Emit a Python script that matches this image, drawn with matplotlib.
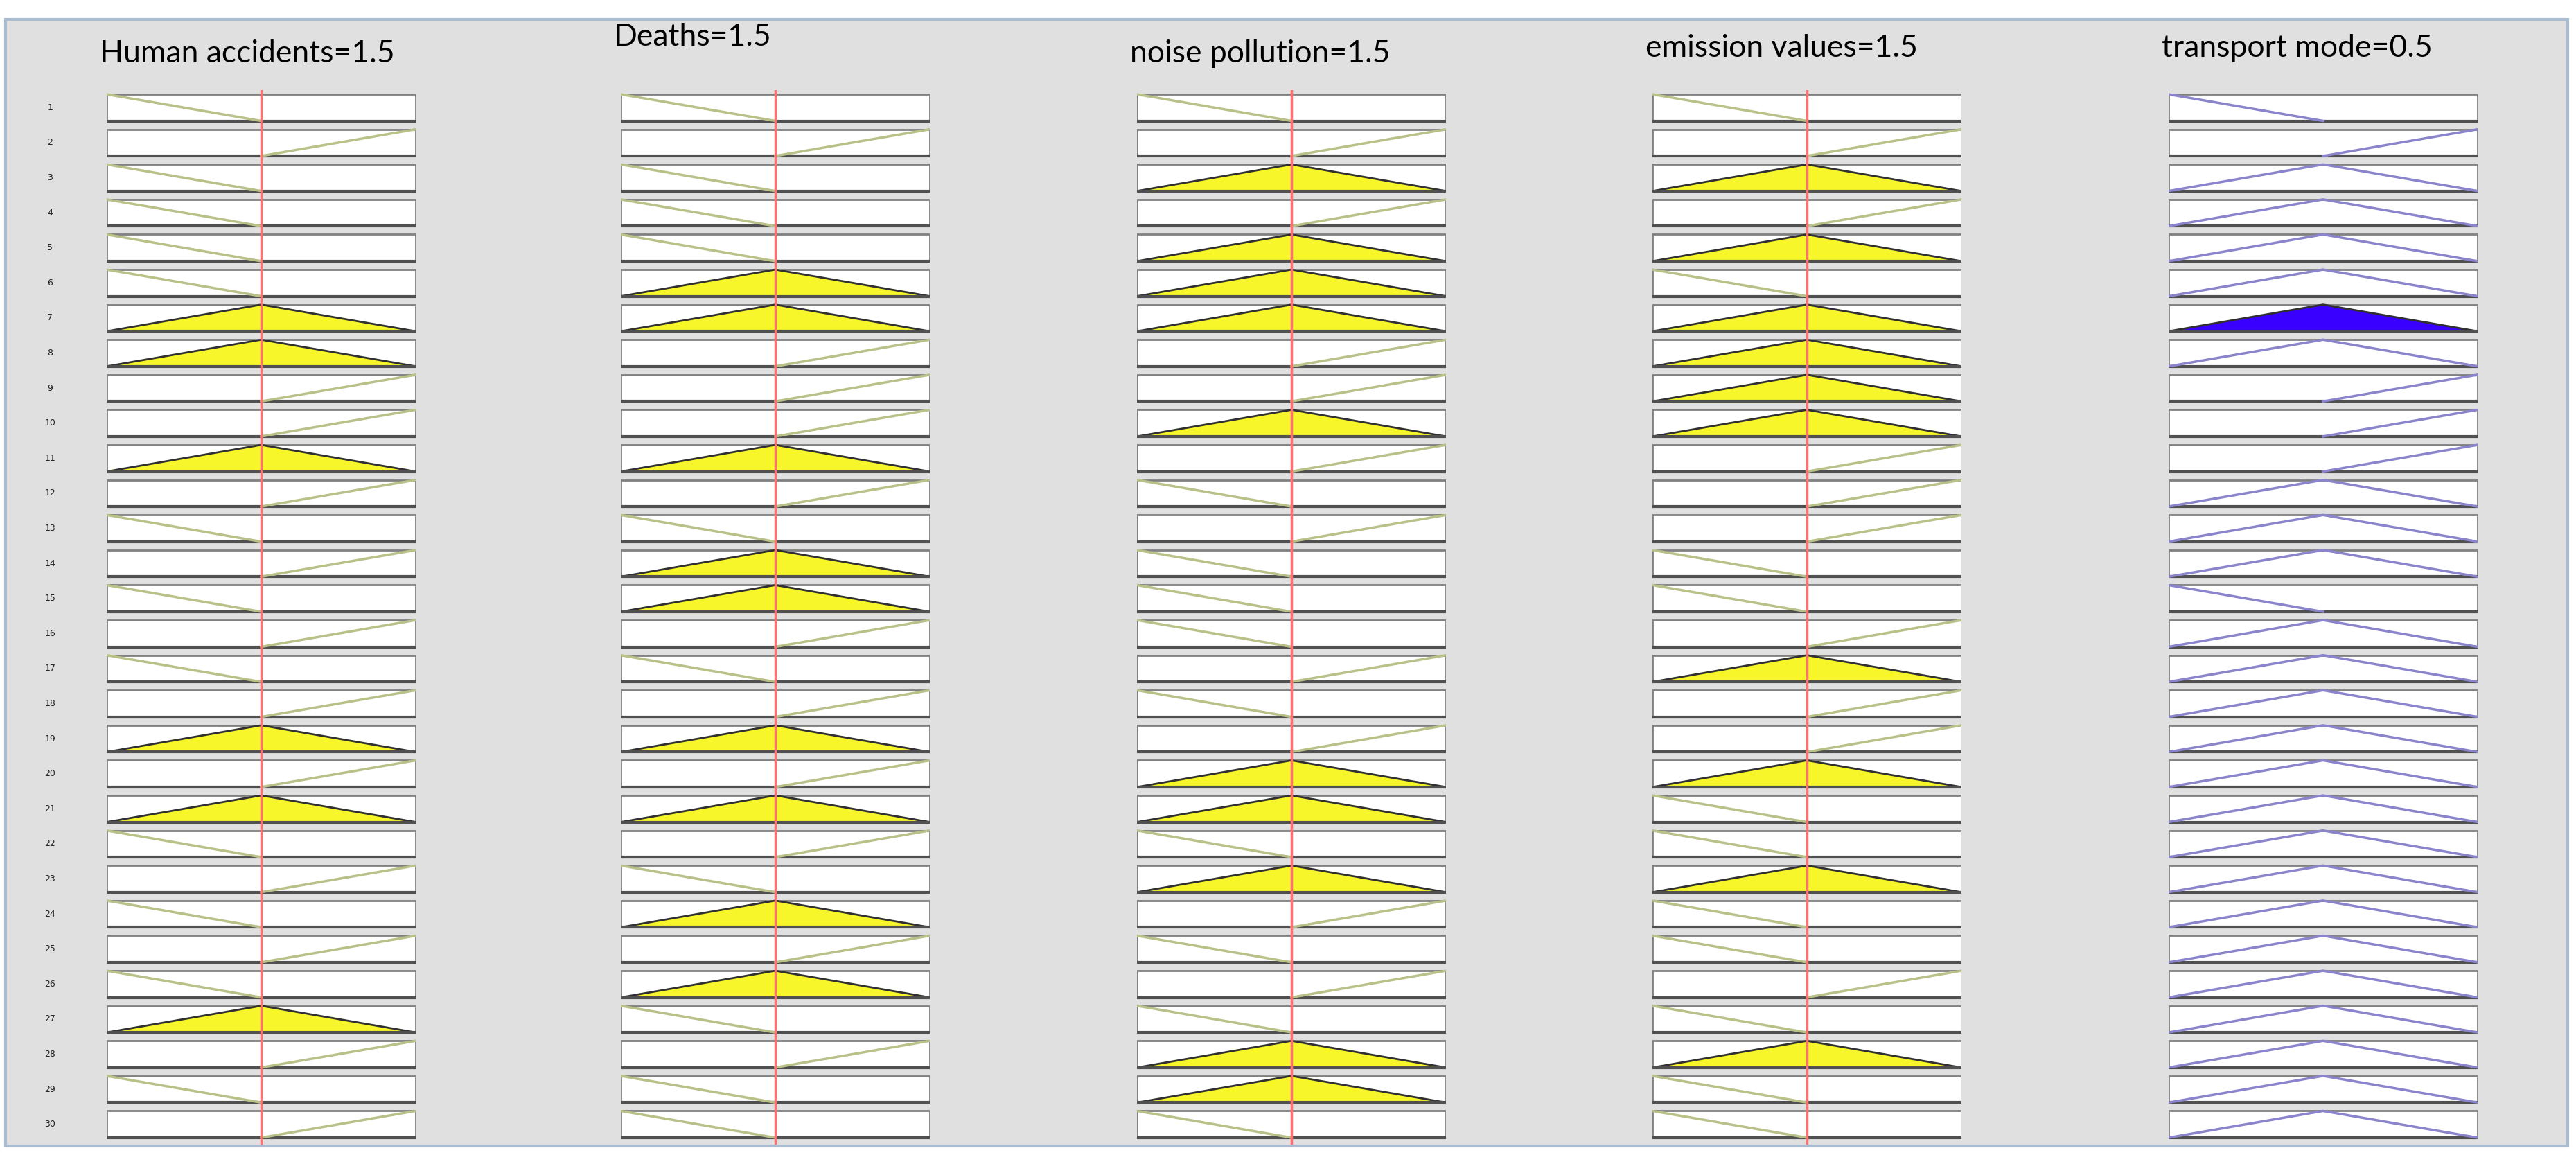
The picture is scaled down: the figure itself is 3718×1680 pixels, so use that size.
import matplotlib
matplotlib.use("Agg")
import matplotlib.pyplot as plt
from matplotlib.patches import Rectangle, Polygon

# membership function shape per rule: L = falling left, R = rising right, T = triangle
titles = ["Human accidents=1.5", "Deaths=1.5", "noise pollution=1.5",
          "emission values=1.5", "transport mode=0.5"]
inputs = [1.5, 1.5, 1.5, 1.5, 0.5]
ranges = [3, 3, 3, 3, 1]
human = "L R L L L L T T R R T R L R L R L R T R T L R L R L T R L R".split()
deaths = "L R L L L T T R R R T R L T T R L R T R T R L T R T L R L L".split()
noise = "L R T R T T T R R T R L R L L L R L R T T L T R L R L T T L".split()
emission = "L R T R T L T T T T R R R L L R T R R T L L T L L R L T L L".split()
transport = "L R T T T T T T R R R T T T L T T T T T T T T T T T T T T T".split()
fired = 7  # rule firing the output

columns = [human, deaths, noise, emission, transport]
col_left = [154, 896, 1641, 2385, 3130]
col_w = 446
W, H = 3718, 1680
row_top, row_pitch = 130, 50.6
title_y = [98, 74, 98, 90, 90]

fig = plt.figure(figsize=(W / 100, H / 100), dpi=100)
fig.patch.set_facecolor("white")
bg = fig.add_axes([0, 0, 1, 1])
bg.set_xlim(0, W)
bg.set_ylim(H, 0)
bg.axis("off")
bg.add_patch(Rectangle((8, 28), W - 20, 1626, facecolor="#e0e0e0",
                       edgecolor="#aabdd0", lw=3, zorder=0))

for c, shapes in enumerate(columns):
    rng = ranges[c]
    mid = rng / 2
    # clip the last row at the panel bottom like the reference
    bottom_px = 1652
    ax = fig.add_axes([col_left[c] / W, 1 - bottom_px / H,
                       col_w / W, (bottom_px - row_top) / H])
    ax.set_xlim(0, rng)
    ax.set_ylim((bottom_px - row_top) / row_pitch, 0)
    ax.axis("off")
    is_out = c == 4
    lc = "#8a84cc" if is_out else "#b9c088"
    for r, s in enumerate(shapes):
        top, bot = r + 0.12, r + 0.88
        ax.add_patch(Rectangle((0, top), rng, bot - top, facecolor="white",
                               edgecolor="#808080", lw=2))
        ax.plot([0, rng], [bot, bot], color="#505050", lw=3)
        if s == "L":
            xs, ys = [0, mid], [top, bot]
        elif s == "R":
            xs, ys = [mid, rng], [bot, top]
        else:
            xs, ys = [0, mid, rng], [bot, top, bot]
        if s == "T" and (not is_out or r + 1 == fired):
            face = "#3a00ff" if is_out else "#f6f62a"
            ax.add_patch(Polygon(list(zip(xs, ys)), closed=True, facecolor=face,
                                 edgecolor="#303030", lw=2))
        else:
            ax.plot(xs, ys, color=lc, lw=2.5)
        if c == 0:
            ax.text(-0.55, (top + bot) / 2, str(r + 1), fontsize=9,
                    ha="center", va="center", color="#222222")
    if not is_out:
        ax.axvline(inputs[c], color="#ff7070", lw=2.5, zorder=5)
    fig.text((col_left[c] - 10) / W, 1 - title_y[c] / H, titles[c],
             fontsize=32, family="Lato", ha="left", va="bottom")

fig.savefig("out.png", dpi=100)
